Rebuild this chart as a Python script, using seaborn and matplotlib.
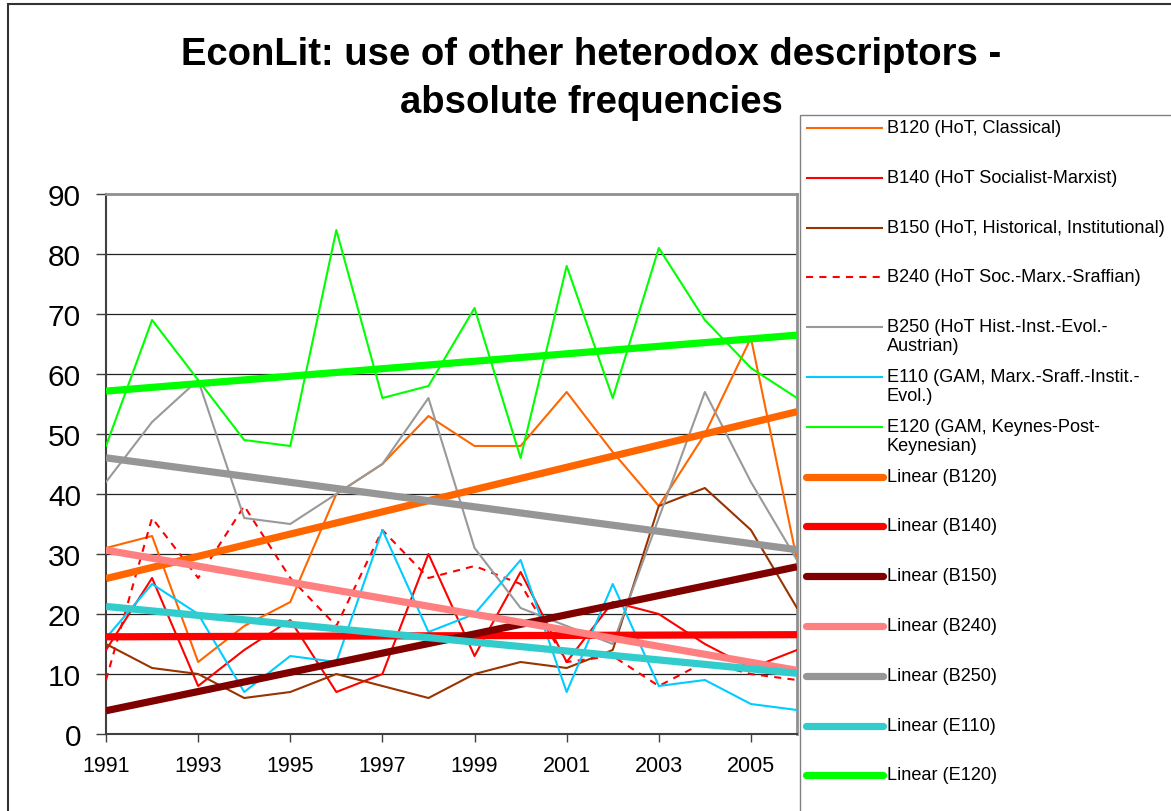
import numpy as np
import pandas as pd
import matplotlib
matplotlib.use('Agg')
import matplotlib.pyplot as plt
import seaborn as sns
from matplotlib.lines import Line2D
from matplotlib.patches import Rectangle

# values (1991-2006)
years = np.arange(1991, 2007)
b120 = [31, 33, 12, 18, 22, 40, 45, 53, 48, 48, 57, 47, 38, 50, 66, 29]
b140 = [14, 26, 8, 14, 19, 7, 10, 30, 13, 27, 12, 22, 20, 15, 11, 14]
b150 = [15, 11, 10, 6, 7, 10, 8, 6, 10, 12, 11, 14, 38, 41, 34, 21]
b240 = [9, 36, 26, 38, 26, 18, 34, 26, 28, 25, 12, 13, 8, 12, 10, 9]
b250 = [42, 52, 59, 36, 35, 40, 45, 56, 31, 21, 18, 15, 36, 57, 42, 29]
e110 = [16, 25, 20, 7, 13, 12, 34, 17, 20, 29, 7, 25, 8, 9, 5, 4]
e120 = [48, 69, 59, 49, 48, 84, 56, 58, 71, 46, 78, 56, 81, 69, 61, 56]

codes = ['B120', 'B140', 'B150', 'B240', 'B250', 'E110', 'E120']
labels = ['B120 (HoT, Classical)',
          'B140 (HoT Socialist-Marxist)',
          'B150 (HoT, Historical, Institutional)',
          'B240 (HoT Soc.-Marx.-Sraffian)',
          'B250 (HoT Hist.-Inst.-Evol.-\nAustrian)',
          'E110 (GAM, Marx.-Sraff.-Instit.-\nEvol.)',
          'E120 (GAM, Keynes-Post-\nKeynesian)']
series = [b120, b140, b150, b240, b250, e110, e120]
title_lines = ['EconLit: use of other heterodox descriptors -',
               'absolute frequencies']

line_colors = ['#FF6600', '#FF0000', '#993300', '#FF0000', '#999999', '#00CCFF', '#00FF00']
line_styles = ['-', '-', '-', (0, (3.4, 3.0)), '-', '-', '-']
trend_colors = ['#FF6600', '#FF0000', '#800000', '#FF8080', '#969696', '#33CCCC', '#00FF00']

sns.set_theme(style='white')
plt.rcParams['font.family'] = ['Liberation Sans', 'DejaVu Sans']
plt.rcParams['text.color'] = 'black'

W, H = 1171, 812
fig = plt.figure(figsize=(W / 100, H / 100), dpi=100)
ax = fig.add_axes([106 / W, 1 - 735 / H, (797 - 106) / W, (735 - 195) / H])

# raw series
for vals, c, ls in zip(series, line_colors, line_styles):
    sns.lineplot(x=years, y=vals, ax=ax, color=c, lw=1.5, linestyle=ls,
                 legend=False, zorder=3)

# linear trends
for vals, c in zip(series, trend_colors):
    sns.regplot(x=years, y=np.array(vals), ax=ax, scatter=False, ci=None,
                truncate=True, color=c,
                line_kws={'lw': 5.2, 'solid_capstyle': 'butt', 'zorder': 4})

ax.set_xlim(1991, 2006)
ax.set_ylim(0, 90)
ax.set_xticks(range(1991, 2006, 2))
ax.set_yticks(range(0, 91, 10))
ax.set_xlabel('')
ax.set_ylabel('')
ax.yaxis.grid(True, color='#222222', lw=0.9)
ax.xaxis.grid(False)
ax.set_axisbelow(True)
ax.tick_params(axis='y', left=True, direction='out', length=7, width=1,
               color='#404040', labelcolor='black', pad=11, labelsize=21.5)
ax.tick_params(axis='x', bottom=True, direction='out', length=6, width=1,
               color='#404040', labelcolor='black', pad=9, labelsize=15.5)
for s in ['left', 'bottom']:
    ax.spines[s].set_color('#404040')
    ax.spines[s].set_linewidth(1.5)
for s in ['top', 'right']:
    ax.spines[s].set_color('#909090')
    ax.spines[s].set_linewidth(2)

# title, one text per line
for k, line in enumerate(title_lines):
    fig.text(591 / W, 1 - (55 + 48 * k) / H, line, ha='center', va='center',
             fontsize=27.5, fontweight='bold', color='black')

# outer chart frame and legend box (both run past the picture edge)
fig.add_artist(Rectangle((8 / W, -0.5), 2, 1 - 5 / H + 0.5, fill=False,
                         ec='#333333', lw=1.5, transform=fig.transFigure))
fig.add_artist(Rectangle((800 / W, -0.5), 1, 1 - 116 / H + 0.5, fill=False,
                         ec='#808080', lw=1, transform=fig.transFigure))

# legend, Excel style
entries = []
for lab, c, ls in zip(labels, line_colors, line_styles):
    entries.append((lab, c, ls, 1.5, 'butt'))
for code, c in zip(codes, trend_colors):
    entries.append(('Linear (%s)' % code, c, '-', 5.2, 'round'))

for i, (lab, c, ls, lw, cap) in enumerate(entries):
    y = 129 + i * 49.8
    fig.add_artist(Line2D([806 / W, 883 / W], [1 - y / H, 1 - y / H],
                          color=c, lw=lw, linestyle=ls, solid_capstyle=cap,
                          transform=fig.transFigure))
    fig.text(887 / W, 1 - (y - 9) / H, lab, ha='left', va='top', fontsize=13.1,
             color='black', linespacing=1.15)

fig.savefig('out.png', dpi=100)
